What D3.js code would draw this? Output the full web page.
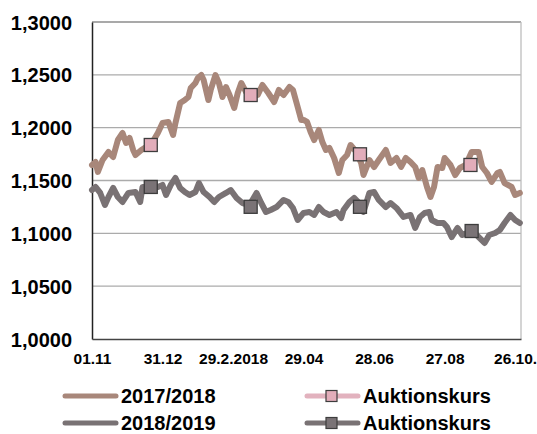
<!DOCTYPE html>
<html>
<head>
<meta charset="utf-8">
<script src="https://cdn.jsdelivr.net/npm/d3@7"></script>
<style>
  body { margin: 0; background: #fff; }
  svg text { font-family: "Liberation Sans", Arial, sans-serif; font-weight: bold; fill: #000; }
</style>
</head>
<body>
<svg id="chart" width="537" height="434"></svg>
<script>
// days since 01.11 -> exchange rate
var series1718 = [
  [0,1.1647],[3,1.1675],[5,1.1581],[9,1.1694],[14,1.1770],[18,1.1722],[22,1.1883],[26,1.1950],
  [29,1.1855],[32,1.1902],[35,1.1789],[37,1.1741],[42,1.1789],[46,1.1817],[50,1.1836],[56,1.1950],
  [60,1.2044],[65,1.2054],[69,1.1931],[71,1.2044],[75,1.2233],[79,1.2262],[82,1.2290],[84,1.2375],
  [88,1.2423],[90,1.2470],[93,1.2498],[95,1.2451],[99,1.2262],[101,1.2357],[105,1.2498],[108,1.2423],
  [111,1.2290],[114,1.2385],[117,1.2309],[121,1.2186],[124,1.2328],[127,1.2423],[131,1.2338],[135,1.2309],
  [141,1.2309],[145,1.2404],[150,1.2328],[155,1.2243],[159,1.2357],[163,1.2309],[168,1.2385],[171,1.2357],
  [175,1.2196],[178,1.2073],[180,1.2073],[183,1.2054],[186,1.1959],[189,1.1883],[193,1.1978],[196,1.1864],
  [199,1.1789],[202,1.1808],[206,1.1713],[210,1.1571],[213,1.1694],[217,1.1741],[220,1.1836],[225,1.1770],
  [229,1.1666],[231,1.1552],[236,1.1694],[240,1.1628],[244,1.1694],[250,1.1789],[254,1.1666],[259,1.1713],
  [263,1.1628],[267,1.1713],[271,1.1675],[275,1.1628],[278,1.1524],[281,1.1599],[285,1.1439],[288,1.1344],
  [291,1.1439],[294,1.1628],[298,1.1618],[300,1.1713],[305,1.1647],[309,1.1552],[313,1.1618],[318,1.1647],
  [323,1.1770],[329,1.1770],[332,1.1628],[336,1.1571],[340,1.1486],[345,1.1571],[347,1.1581],[351,1.1476],
  [357,1.1439],[360,1.1363],[364,1.1382]
];

var series1819 = [
  [0,1.1410],[3,1.1439],[7,1.1382],[11,1.1268],[14,1.1344],[18,1.1429],[22,1.1344],[26,1.1297],
  [31,1.1382],[37,1.1391],[41,1.1297],[43,1.1439],[49,1.1439],[56,1.1439],[60,1.1458],[63,1.1363],
  [67,1.1458],[71,1.1524],[75,1.1429],[79,1.1391],[83,1.1363],[88,1.1391],[91,1.1476],[95,1.1391],
  [100,1.1344],[104,1.1297],[108,1.1344],[114,1.1382],[118,1.1410],[123,1.1335],[128,1.1287],[134,1.1268],
  [140,1.1382],[144,1.1287],[148,1.1202],[152,1.1221],[157,1.1249],[163,1.1316],[167,1.1297],[171,1.1240],
  [175,1.1126],[180,1.1193],[185,1.1202],[189,1.1174],[193,1.1249],[197,1.1202],[202,1.1174],[208,1.1202],
  [212,1.1145],[214,1.1221],[219,1.1297],[223,1.1335],[229,1.1268],[231,1.1202],[236,1.1382],[240,1.1391],
  [244,1.1316],[250,1.1249],[254,1.1287],[259,1.1240],[265,1.1155],[271,1.1174],[275,1.1051],[279,1.1155],
  [283,1.1193],[287,1.1202],[289,1.1126],[294,1.1098],[299,1.1098],[302,1.1060],[306,1.0965],[311,1.1051],
  [315,1.0984],[319,1.1003],[324,1.1022],[329,1.0965],[334,1.0909],[338,1.0984],[343,1.1003],[347,1.1032],
  [351,1.1098],[356,1.1174],[360,1.1126],[364,1.1098]
];

var auction1718 = [[50,1.1836],[135,1.2309],[228,1.1748],[322,1.1647]];
var auction1819 = [[50,1.1439],[135,1.1251],[228,1.1251],[323,1.1022]];

var xTickDays = [0, 60, 120, 180, 240, 300, 360];
var xTickLabels = ["01.11", "31.12", "29.2.2018", "29.04", "28.06", "27.08", "26.10."];
var yTicks = [1.0, 1.05, 1.1, 1.15, 1.2, 1.25, 1.3];

var brown = "#a8877a", grey = "#797274", pink = "#e2adba", pinkLine = "#e2b2be";

var svg = d3.select("#chart");
var plotLeft = 92, plotRight = 521, plotTop = 22, plotBottom = 339;

var x = d3.scaleLinear().domain([0, 365]).range([plotLeft, plotRight]);
var y = d3.scaleLinear().domain([1.0, 1.3]).range([plotBottom, plotTop]);

// grid
svg.append("g")
   .selectAll("line")
   .data(yTicks.slice(1))
   .enter().append("line")
   .attr("x1", plotLeft).attr("x2", plotRight)
   .attr("y1", function(d) { return y(d); })
   .attr("y2", function(d) { return y(d); })
   .attr("stroke", function(d) { return d == 1.3 ? "#8c8c8c" : "#ababab"; })
   .attr("stroke-width", 1.3);

svg.append("line")
   .attr("x1", plotRight).attr("x2", plotRight).attr("y1", plotTop).attr("y2", plotBottom)
   .attr("stroke", "#bdbdbd").attr("stroke-width", 1.3);

var yAxis = d3.axisLeft(y).tickValues(yTicks).tickSize(0).tickPadding(20)
              .tickFormat(function(d) { return d3.format(".4f")(d).replace(".", ","); });
svg.append("g")
   .attr("transform", "translate(" + plotLeft + ",0)")
   .call(yAxis)
   .call(function(g) {
     g.select(".domain").attr("stroke", "#222").attr("stroke-width", 1.5);
     g.selectAll("text").attr("font-size", 20).attr("dy", "0.35em")
      .attr("font-family", "Liberation Sans, Arial, sans-serif").attr("font-weight", "bold").attr("fill", "#000");
   });

var xAxis = d3.axisBottom(x).tickValues(xTickDays).tickSize(0).tickPadding(14)
              .tickFormat(function(d, i) { return xTickLabels[i]; });
svg.append("g")
   .attr("transform", "translate(0," + plotBottom + ")")
   .call(xAxis)
   .call(function(g) {
     g.select(".domain").attr("stroke", "#444").attr("stroke-width", 1.5);
     g.selectAll("text").attr("font-size", 15.5)
      .attr("font-family", "Liberation Sans, Arial, sans-serif").attr("font-weight", "bold").attr("fill", "#000");
   });

var line = d3.line()
             .x(function(d) { return x(d[0]); })
             .y(function(d) { return y(d[1]); });

svg.append("path")
   .datum(series1718)
   .attr("d", line)
   .attr("fill", "none")
   .attr("stroke", brown)
   .attr("stroke-width", 6)
   .attr("stroke-linejoin", "round")
   .attr("stroke-linecap", "round");

svg.append("path")
   .datum(series1819)
   .attr("d", line)
   .attr("fill", "none")
   .attr("stroke", grey)
   .attr("stroke-width", 6)
   .attr("stroke-linejoin", "round")
   .attr("stroke-linecap", "round");

function markers(data, fill) {
  var s = 13;
  svg.append("g")
     .selectAll("rect")
     .data(data)
     .enter().append("rect")
     .attr("x", function(d) { return x(d[0]) - s / 2; })
     .attr("y", function(d) { return y(d[1]) - s / 2; })
     .attr("width", s).attr("height", s)
     .attr("fill", fill)
     .attr("stroke", "#3d3d3d")
     .attr("stroke-width", 1.3);
}
markers(auction1718, pink);
markers(auction1819, "#7a7376");

// legend
var legend = [
  { label: "2017/2018", color: brown, x: 63, y: 396, marker: null },
  { label: "2018/2019", color: grey, x: 63, y: 423, marker: null },
  { label: "Auktionskurs", color: pinkLine, x: 305, y: 396, marker: pink },
  { label: "Auktionskurs", color: grey, x: 305, y: 423, marker: "#7a7376" }
];

var lg = svg.append("g")
            .selectAll("g")
            .data(legend)
            .enter().append("g")
            .attr("transform", function(d) { return "translate(" + d.x + "," + d.y + ")"; });

lg.append("line")
  .attr("x1", 2).attr("x2", 53)
  .attr("stroke", function(d) { return d.color; })
  .attr("stroke-width", 5)
  .attr("stroke-linecap", "round");

lg.filter(function(d) { return d.marker; })
  .append("rect")
  .attr("x", 21).attr("y", -5.5).attr("width", 11).attr("height", 11)
  .attr("fill", function(d) { return d.marker; })
  .attr("stroke", "#3d3d3d").attr("stroke-width", 1.2);

lg.append("text")
  .attr("x", 58)
  .attr("dy", "0.36em")
  .attr("font-size", 20)
  .text(function(d) { return d.label; });
</script>
</body>
</html>
